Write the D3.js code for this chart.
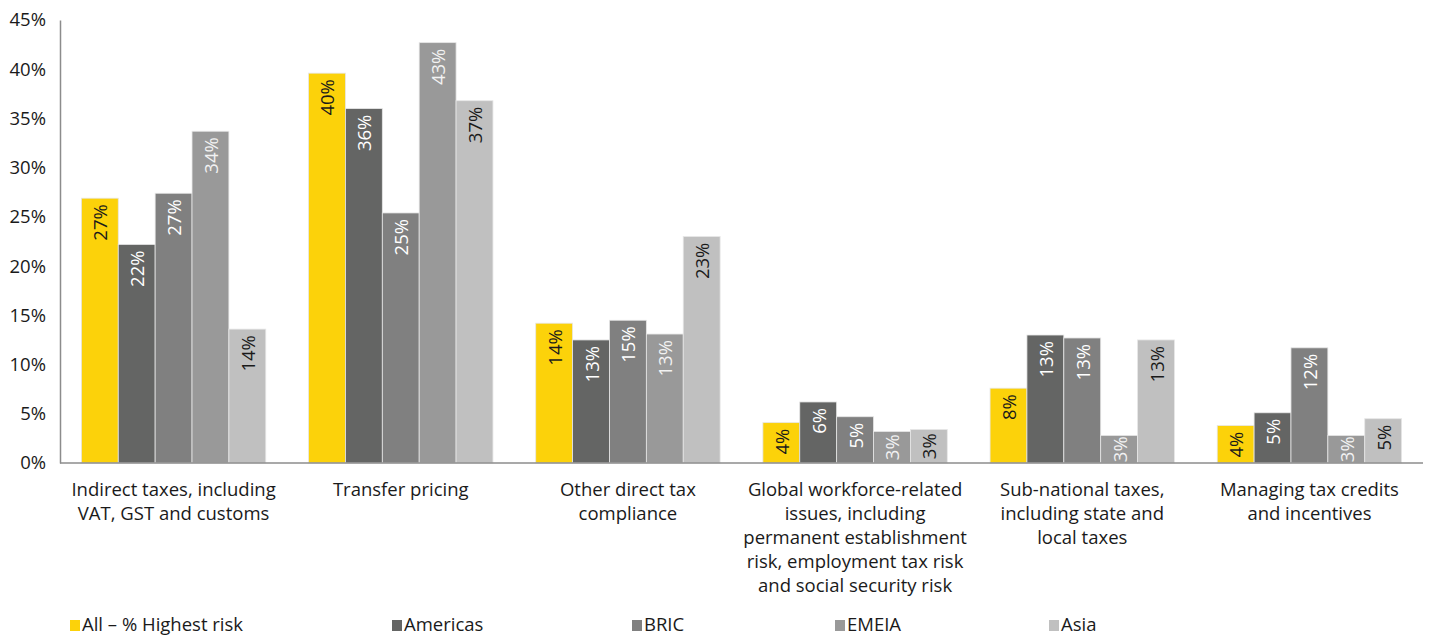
<!DOCTYPE html>
<html>
<head>
<meta charset="utf-8">
<script src="https://cdn.jsdelivr.net/npm/d3@7"></script>
<style>
  body { margin: 0; background: #fff; }
  svg { font-family: "Open Sans", "Liberation Sans", sans-serif; }
</style>
</head>
<body>
<div id="chart"></div>
<script>
// Daten
const categories = [
    ["Indirect taxes, including", "VAT, GST and customs"],
    ["Transfer pricing"],
    ["Other direct tax", "compliance"],
    ["Global workforce-related", "issues, including", "permanent establishment", "risk, employment tax risk", "and social security risk"],
    ["Sub-national taxes,", "including state and", "local taxes"],
    ["Managing tax credits", "and incentives"]
];
const seriesNames = ["All – % Highest risk", "Americas", "BRIC", "EMEIA", "Asia"];
const allValues      = [26.9, 39.6, 14.2, 4.1, 7.6, 3.8];
const americasValues = [22.2, 36.0, 12.5, 6.2, 13.0, 5.1];
const bricValues     = [27.4, 25.4, 14.5, 4.7, 12.7, 11.7];
const emeiaValues    = [33.7, 42.7, 13.1, 3.2, 2.8, 2.8];
const asiaValues     = [13.6, 36.8, 23.0, 3.4, 12.5, 4.5];
const yTicks = [0, 5, 10, 15, 20, 25, 30, 35, 40, 45];

const series = [allValues, americasValues, bricValues, emeiaValues, asiaValues];
const colors = ["#FCD20A", "#646564", "#808080", "#999999", "#C0C0C0"];
const labelColors = ["#1a1a1a", "#ffffff", "#ffffff", "#f2f2f2", "#1a1a1a"];

const width = 1431, height = 635;
const margin = { left: 60, right: 8, top: 20, bottom: 172 };
const fontSize = 18.5;

const svg = d3.select("#chart")
    .append("svg")
    .attr("width", width)
    .attr("height", height);

const x0 = d3.scaleBand()
    .domain(d3.range(categories.length))
    .range([margin.left, width - margin.right])
    .paddingInner(0)
    .paddingOuter(0);

const x1 = d3.scaleBand()
    .domain(d3.range(series.length))
    .range([0, x0.bandwidth()])
    .paddingOuter(0.58)
    .paddingInner(0);

const y = d3.scaleLinear()
    .domain([0, 45])
    .range([height - margin.bottom, margin.top]);

// Balken
const groups = svg.selectAll("g.group")
    .data(categories)
    .enter()
    .append("g")
    .attr("class", "group")
    .attr("transform", (d, i) => `translate(${x0(i)},0)`);

groups.each(function (cat, ci) {
    const g = d3.select(this);
    series.forEach((vals, si) => {
        const v = vals[ci];
        const barH = y(0) - y(v);
        g.append("rect")
            .attr("x", x1(si))
            .attr("y", y(v))
            .attr("width", x1.bandwidth())
            .attr("height", barH)
            .attr("fill", colors[si])
            .attr("stroke", "#e6e6e6")
            .attr("stroke-width", 0.8);

        // Beschriftung im Balken (gedreht, von unten nach oben lesbar)
        const cx = x1(si) + x1.bandwidth() / 2;
        const label = g.append("text")
            .attr("dominant-baseline", "central")
            .attr("font-size", fontSize)
            .attr("fill", labelColors[si])
            .text(Math.round(v) + "%");
        const len = label.node().getComputedTextLength();
        if (barH < len + 10) {
            // kurze Balken: mittig
            label.attr("text-anchor", "middle")
                .attr("transform", `translate(${cx},${y(v) + barH / 2}) rotate(-90)`);
        } else {
            label.attr("text-anchor", "end")
                .attr("transform", `translate(${cx},${y(v) + 6}) rotate(-90)`);
        }
    });
});

// Y-Achse
const yAxis = d3.axisLeft(y)
    .tickValues(yTicks)
    .tickFormat(d => d + "%")
    .tickSize(0)
    .tickPadding(14);

const yg = svg.append("g")
    .attr("transform", `translate(${margin.left},0)`)
    .call(yAxis);
yg.select(".domain").attr("stroke", "#8c8c8c").attr("stroke-width", 1.5);
yg.selectAll("text")
    .attr("font-size", fontSize)
    .attr("fill", "#1a1a1a")
    .attr("font-family", "\"Open Sans\", sans-serif");

// X-Achse (Grundlinie)
svg.append("line")
    .attr("x1", margin.left)
    .attr("x2", width - margin.right)
    .attr("y1", y(0))
    .attr("y2", y(0))
    .attr("stroke", "#8c8c8c")
    .attr("stroke-width", 1.5);

// Kategorien
categories.forEach((lines, ci) => {
    const t = svg.append("text")
        .attr("x", x0(ci) + x0.bandwidth() / 2)
        .attr("y", 496)
        .attr("text-anchor", "middle")
        .attr("font-size", fontSize)
        .attr("fill", "#1a1a1a");
    lines.forEach((l, li) => {
        t.append("tspan")
            .attr("x", x0(ci) + x0.bandwidth() / 2)
            .attr("dy", li === 0 ? 0 : 24)
            .text(l);
    });
});

// Legende
const legendX = [70, 392, 632, 835, 1049];
const legend = svg.append("g");
seriesNames.forEach((name, i) => {
    legend.append("rect")
        .attr("x", legendX[i])
        .attr("y", 620)
        .attr("width", 10)
        .attr("height", 11)
        .attr("fill", colors[i]);
    legend.append("text")
        .attr("x", legendX[i] + 12)
        .attr("y", 631)
        .attr("font-size", fontSize)
        .attr("fill", "#1a1a1a")
        .text(name);
});
</script>
</body>
</html>
